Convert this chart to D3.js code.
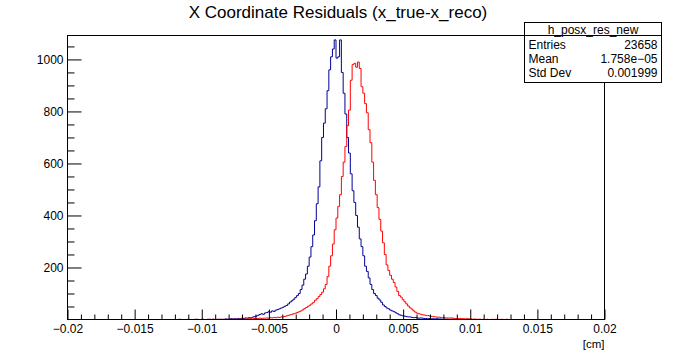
<!DOCTYPE html>
<html>
<head>
<meta charset="utf-8">
<script src="https://cdn.jsdelivr.net/npm/d3@7"></script>
<style>
  body { margin: 0; background: #fff; }
  svg { display: block; }
  text { font-family: "Liberation Sans", Arial, Helvetica, sans-serif; }
</style>
</head>
<body>
<svg id="chart" width="673" height="355"></svg>
<script>
// ---------------- data ----------------
const title = "X Coordinate Residuals (x_true-x_reco)";
const xUnitLabel = "[cm]";
const histName = "h_posx_res_new";
const statLabels = ["Entries", "Mean", "Std Dev"];
const statValues = ["23658", "1.758e\u221205", "0.001999"];

const xMin = -0.02, xMax = 0.02, nBins = 300;
const yMax = 1092;

const xMajorTicks = [-0.02, -0.015, -0.01, -0.005, 0, 0.005, 0.01, 0.015, 0.02];
const xTickLabels = ["\u22120.02", "\u22120.015", "\u22120.01", "\u22120.005", "0", "0.005", "0.01", "0.015", "0.02"];
const yMajorTicks = [200, 400, 600, 800, 1000];
const yTickLabels = ["200", "400", "600", "800", "1000"];

// blue histogram (h_posx_res_new): counts starting at bin index blueStart
const blueStart = 60;
const blueCounts = [
  0,0,1,0,0,0,0,1,0,0, 0,0,1,0,0,1,0,0,0,1, 0,1,0,0,1,               // 60-84
  1,0,1,2,1,2,3,2,3,2, 4,3,5,4,6,5,7,6,9,11,                         // 85-104
  13,16,19,22,20,25,27,30,28,33, 31,36,38,41,44,47,51,54,60,67,      // 105-124
  72,78,85,92,100,115,132,155,175,205, 240,280,325,380,445,510,610,700,755,810, // 125-144
  880,960,1010,1040,1075,1005,1010,1075,950,870, 790,700,640,560,495,450,400,355,310,280, // 145-164
  245,205,185,160,135,115,100,92,82,75, 66,56,50,44,41,36,33,30,26,22, // 165-184
  18,16,14,13,11,10,10,8,7,8, 6,5,6,5,4,4,3,4,2,3,                  // 185-204
  2,3,2,2,1,2,1,1,0,1, 1,0,1,0,0,1,0,0,1,0                           // 205-224
];

// red histogram: counts starting at bin index redStart
const redStart = 70;
const redCounts = [
  0,1,0,0,0,1,0,0,1,0, 0,1,0,1,0,0,1,0,1,1, 0,1,1,0,1,1,2,1,1,2,     // 70-99
  2,3,3,2,4,3,4,5,4,5, 5,6,5,7,6,8,7,9,8,10,                          // 100-119
  10,12,14,16,18,20,22,24,27,30, 33,37,42,46,51,55,60,66,74,80,       // 120-139
  88,96,105,118,135,165,205,245,290,345, 390,435,480,550,605,665,745,805,920,980, // 140-159
  985,970,990,965,895,870,830,795,730,680, 605,535,480,430,385,340,295,250,210,188, // 160-179
  170,155,142,125,108,92,86,76,68,60, 52,45,40,33,28,24,22,20,18,17, // 180-199
  15,15,13,12,11,10,9,9,8,7, 7,6,6,5,6,5,4,4,3,4,                    // 200-219
  3,3,2,3,2,2,1,2,1,1, 1,0,1,0,1,0,0,1,0,1, 0,0,1,0,0,1              // 220-245
];

// ---------------- layout ----------------
const W = 673, H = 355;
const frame = { left: 67.5, right: 604.5, top: 35.5, bottom: 319.5 };
const blueColor = "#000099";
const redColor = "#ff0000";

const svg = d3.select("#chart");
svg.append("rect").attr("width", W).attr("height", H).attr("fill", "#fff");

const x = d3.scaleLinear().domain([xMin, xMax]).range([frame.left, frame.right]);
const y = d3.scaleLinear().domain([0, yMax]).range([frame.bottom, frame.top]);

const binWidth = (xMax - xMin) / nBins;
function fullHist(start, counts) {
  const arr = new Array(nBins).fill(0);
  counts.forEach((c, k) => { if (start + k < nBins) arr[start + k] = c; });
  return arr;
}
function stepPoints(arr) {
  const pts = arr.map((c, i) => [xMin + i * binWidth, c]);
  pts.push([xMax, arr[arr.length - 1]]);
  return pts;
}
const line = d3.line().x(d => x(d[0])).y(d => y(d[1])).curve(d3.curveStepAfter);

svg.append("clipPath").attr("id", "clip")
  .append("rect")
  .attr("x", frame.left).attr("y", frame.top)
  .attr("width", frame.right - frame.left).attr("height", frame.bottom - frame.top);

const plot = svg.append("g").attr("clip-path", "url(#clip)");
plot.append("path")
  .attr("d", line(stepPoints(fullHist(blueStart, blueCounts))))
  .attr("fill", "none").attr("stroke", blueColor).attr("stroke-width", 1);
plot.append("path")
  .attr("d", line(stepPoints(fullHist(redStart, redCounts))))
  .attr("fill", "none").attr("stroke", redColor).attr("stroke-width", 1);

// ---------------- axes ----------------
const xMinor = d3.range(-20, 21).map(k => k * 0.001).filter(v => Math.abs(Math.round(v / 0.005) * 0.005 - v) > 1e-9);
const gxMinor = svg.append("g").attr("transform", `translate(0,${frame.bottom})`)
  .call(d3.axisBottom(x).tickValues(xMinor).tickSize(-5).tickFormat(""));
const gx = svg.append("g").attr("transform", `translate(0,${frame.bottom})`)
  .call(d3.axisBottom(x).tickValues(xMajorTicks).tickSize(-10).tickPadding(5)
    .tickFormat((d, i) => xTickLabels[i]));

const yMinor = d3.range(50, yMax, 50).filter(v => v % 200 !== 0);
const gyMinor = svg.append("g").attr("transform", `translate(${frame.left},0)`)
  .call(d3.axisLeft(y).tickValues(yMinor).tickSize(-7).tickFormat(""));
const gy = svg.append("g").attr("transform", `translate(${frame.left},0)`)
  .call(d3.axisLeft(y).tickValues(yMajorTicks).tickSize(-14).tickPadding(4)
    .tickFormat((d, i) => yTickLabels[i]));

[gx, gy, gxMinor, gyMinor].forEach(g => {
  g.select(".domain").remove();
  g.selectAll("line").attr("stroke", "#000").attr("stroke-width", 1);
  g.selectAll("text").attr("fill", "#000").style("font-size", "12px")
    .style("font-family", '"Liberation Sans", Arial, sans-serif');
});

// frame
svg.append("rect")
  .attr("x", frame.left).attr("y", frame.top)
  .attr("width", frame.right - frame.left).attr("height", frame.bottom - frame.top)
  .attr("fill", "none").attr("stroke", "#000").attr("stroke-width", 1);

// title
svg.append("text").attr("x", 338).attr("y", 18).attr("text-anchor", "middle")
  .style("font-size", "17px").attr("fill", "#000").text(title);

// x unit label
svg.append("text").attr("x", frame.right).attr("y", 348).attr("text-anchor", "end")
  .style("font-size", "11.5px").attr("fill", "#000").text(xUnitLabel);

// ---------------- stats box ----------------
const box = { x: 524.5, y: 22.5, w: 137, h: 60, head: 13 };
const sb = svg.append("g");
sb.append("rect").attr("x", box.x).attr("y", box.y).attr("width", box.w).attr("height", box.h)
  .attr("fill", "#fff").attr("stroke", "#000").attr("stroke-width", 1);
sb.append("line").attr("x1", box.x).attr("x2", box.x + box.w)
  .attr("y1", box.y + box.head).attr("y2", box.y + box.head).attr("stroke", "#000");
sb.append("text").attr("x", box.x + box.w / 2).attr("y", box.y + 11).attr("text-anchor", "middle")
  .style("font-size", "12px").text(histName);
statLabels.forEach((lab, i) => {
  const yy = box.y + box.head + 13 + i * 14.2;
  sb.append("text").attr("x", box.x + 4).attr("y", yy).style("font-size", "12px").text(lab);
  sb.append("text").attr("x", box.x + box.w - 4).attr("y", yy).attr("text-anchor", "end")
    .style("font-size", "12px").text(statValues[i]);
});
</script>
</body>
</html>
